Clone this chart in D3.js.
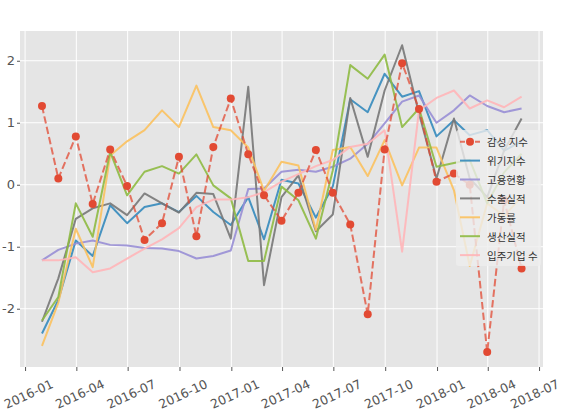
<!DOCTYPE html>
<html>
<head>
<meta charset="utf-8">
<script src="https://cdn.jsdelivr.net/npm/d3@7"></script>
<style>
  body { margin: 0; background: #fff; }
  .tick text { font-family: "DejaVu Sans", sans-serif; }
</style>
</head>
<body>
<div id="chart"></div>
<script>
// monthly data, month-end dates 2016-01 .. 2018-05
const months = [
    '2016-01-31', '2016-02-29', '2016-03-31', '2016-04-30', '2016-05-31', '2016-06-30',
    '2016-07-31', '2016-08-31', '2016-09-30', '2016-10-31', '2016-11-30', '2016-12-31',
    '2017-01-31', '2017-02-28', '2017-03-31', '2017-04-30', '2017-05-31', '2017-06-30',
    '2017-07-31', '2017-08-31', '2017-09-30', '2017-10-31', '2017-11-30', '2017-12-31',
    '2018-01-31', '2018-02-28', '2018-03-31', '2018-04-30', '2018-05-31'
];
const sentiment = [1.27, 0.10, 0.78, -0.31, 0.57, -0.02, -0.89, -0.62, 0.45, -0.83, 0.61, 1.39,
    0.49, -0.17, -0.58, -0.13, 0.56, -0.13, -0.64, -2.09, 0.57, 1.96, 1.22, 0.05,
    0.18, 0.0, -2.70, -0.25, -1.35];
const crisis = [-2.40, -1.86, -0.90, -1.15, -0.33, -0.62, -0.36, -0.30, -0.44, -0.18, -0.44, -0.65,
    -0.20, -0.88, 0.08, 0.02, -0.53, -0.03, 1.38, 1.17, 1.79, 1.42, 1.51, 0.78,
    1.04, 0.80, 0.88, 0.55, 0.70];
const employment = [-1.22, -1.05, -0.95, -0.90, -0.97, -0.98, -1.02, -1.03, -1.07, -1.19, -1.15, -1.06,
    -0.07, -0.06, 0.21, 0.24, 0.21, 0.29, 0.42, 0.66, 0.99, 1.34, 1.44, 1.00,
    1.20, 1.44, 1.27, 1.17, 1.23];
const exports = [-2.21, -1.51, -0.55, -0.38, -0.30, -0.49, -0.14, -0.30, -0.45, -0.13, -0.15, -0.87,
    1.58, -1.62, -0.20, 0.15, -0.75, -0.48, 1.40, 0.45, 1.52, 2.25, 1.15, 0.10,
    1.07, 0.10, -0.20, 0.55, 1.07];
const utilization = [-2.60, -1.90, -0.71, -1.33, 0.47, 0.70, 0.88, 1.20, 0.93, 1.60, 0.93, 0.88,
    0.60, -0.10, 0.37, 0.31, -0.73, 0.56, 0.61, 0.14, 0.72, -0.01, 0.60, 0.60,
    -0.09, -1.31, -0.30, -0.50, -0.20];
const production = [-2.19, -1.81, -0.30, -0.84, 0.53, -0.17, 0.21, 0.30, 0.18, 0.49, -0.01, -0.22,
    -1.23, -1.23, -0.03, -0.25, -0.87, 0.23, 1.93, 1.71, 2.10, 0.93, 1.23, 0.29,
    0.35, 0.40, -0.30, 0.20, 0.50];
const tenants = [-1.22, -1.22, -1.17, -1.41, -1.35, -1.19, -1.03, -0.88, -0.70, -0.36, -0.24, -0.24,
    -0.20, -0.12, 0.05, 0.17, 0.30, 0.40, 0.61, 0.66, 0.88, -1.08, 1.20, 1.40,
    1.52, 1.23, 1.36, 1.25, 1.42];

const seriesNames = ['감성 지수', '위기지수', '고용현황', '수출실적', '가동률', '생산실적', '입주기업 수'];
const seriesValues = [sentiment, crisis, employment, exports, utilization, production, tenants];
const colors = ['#E24A33', '#348ABD', '#988ED5', '#777777', '#FBC15E', '#8EBA42', '#FFB5B8'];
const yTicks = [-2, -1, 0, 1, 2];

// Set up SVG container and dimensions
const width = 562;
const height = 417;
const plot = { left: 20, right: 543, top: 31, bottom: 367 };

const svg = d3
    .select('#chart')
    .append('svg')
    .attr('width', width)
    .attr('height', height);

const parse = d3.utcParse('%Y-%m-%d');
const dates = months.map(parse);

// Scales
const xScale = d3
    .scaleUtc()
    .domain([parse('2015-12-23'), parse('2018-07-08')])
    .range([plot.left, plot.right]);
const yScale = d3
    .scaleLinear()
    .domain([-2.94, 2.48])
    .range([plot.bottom, plot.top]);

// Background + grid
svg.append('rect')
    .attr('x', plot.left)
    .attr('y', plot.top)
    .attr('width', plot.right - plot.left)
    .attr('height', plot.bottom - plot.top)
    .attr('fill', '#E5E5E5');

const xTicks = d3.utcMonth.every(3).range(parse('2016-01-01'), parse('2018-07-02'));

svg.append('g')
    .selectAll('line')
    .data(xTicks)
    .enter()
    .append('line')
    .attr('x1', (d) => xScale(d))
    .attr('x2', (d) => xScale(d))
    .attr('y1', plot.top)
    .attr('y2', plot.bottom)
    .attr('stroke', '#fff')
    .attr('stroke-width', 1);

svg.append('g')
    .selectAll('line')
    .data(yTicks)
    .enter()
    .append('line')
    .attr('x1', plot.left)
    .attr('x2', plot.right)
    .attr('y1', (d) => yScale(d))
    .attr('y2', (d) => yScale(d))
    .attr('stroke', '#fff')
    .attr('stroke-width', 1);

// Axes
const xAxis = d3.axisBottom(xScale)
    .tickValues(xTicks)
    .tickFormat(d3.utcFormat('%Y-%m'))
    .tickSize(4)
    .tickPadding(2);
const gx = svg.append('g')
    .attr('transform', `translate(0, ${plot.bottom})`)
    .call(xAxis);
gx.select('.domain').remove();
gx.selectAll('.tick line').attr('stroke', '#555');
gx.selectAll('.tick text')
    .attr('fill', '#555')
    .attr('font-size', 12.5)
    .attr('text-anchor', 'middle')
    .attr('dy', null)
    .attr('y', 0)
    .attr('dominant-baseline', 'central')
    .attr('transform', function (d) {
        // keep the rotated label inside the window
        const tx = xScale(d);
        const bb = this.getBBox();
        const a = 25 * Math.PI / 180;
        const half = (bb.width * Math.cos(a) + bb.height * Math.sin(a)) / 2;
        const cx = Math.max(half + 1 - tx, Math.min(3, width - 1 - half - tx));
        return `translate(${cx}, 27) rotate(-25)`;
    });

const yAxis = d3.axisLeft(yScale)
    .tickValues(yTicks)
    .tickFormat((d) => d)
    .tickSize(3)
    .tickPadding(2);
const gy = svg.append('g')
    .attr('transform', `translate(${plot.left}, 0)`)
    .call(yAxis);
gy.select('.domain').remove();
gy.selectAll('.tick line').attr('stroke', '#555');
gy.selectAll('.tick text')
    .attr('fill', '#555')
    .attr('font-size', 13);

// Lines
const line = d3.line()
    .x((d, i) => xScale(dates[i]))
    .y((d) => yScale(d));

const order = [1, 2, 3, 4, 5, 6, 0]; // sentiment drawn on top
order.forEach((k) => {
    svg.append('path')
        .datum(seriesValues[k])
        .attr('d', line)
        .attr('fill', 'none')
        .attr('stroke', colors[k])
        .attr('stroke-width', 2)
        .attr('stroke-opacity', k === 0 ? 0.75 : 0.9)
        .attr('stroke-dasharray', k === 0 ? '7.4,3.2' : null)
        .attr('stroke-linejoin', 'round');
});

svg.append('g')
    .selectAll('circle')
    .data(sentiment)
    .enter()
    .append('circle')
    .attr('cx', (d, i) => xScale(dates[i]))
    .attr('cy', (d) => yScale(d))
    .attr('r', 4)
    .attr('fill', colors[0]);

// Legend
const legend = svg.append('g').attr('transform', 'translate(456, 130)');
legend.append('rect')
    .attr('width', 85)
    .attr('height', 136)
    .attr('rx', 3)
    .attr('fill', '#EEEEEE')
    .attr('fill-opacity', 0.8);

const entries = legend.selectAll('g')
    .data(seriesNames)
    .enter()
    .append('g')
    .attr('transform', (d, i) => `translate(0, ${11.7 + i * 18.9})`);

entries.append('line')
    .attr('x1', 4)
    .attr('x2', 24)
    .attr('stroke', (d, i) => colors[i])
    .attr('stroke-width', 2)
    .attr('stroke-opacity', (d, i) => (i === 0 ? 0.75 : 0.9))
    .attr('stroke-dasharray', (d, i) => (i === 0 ? '5,2.5' : null));

entries.filter((d, i) => i === 0)
    .append('circle')
    .attr('cx', 14)
    .attr('r', 4)
    .attr('fill', colors[0]);

entries.append('text')
    .attr('x', 31)
    .attr('dominant-baseline', 'central')
    .attr('font-family', '"Noto Sans CJK KR", sans-serif')
    .attr('font-size', 10.5)
    .attr('fill', '#333')
    .text((d) => d);
</script>
</body>
</html>
